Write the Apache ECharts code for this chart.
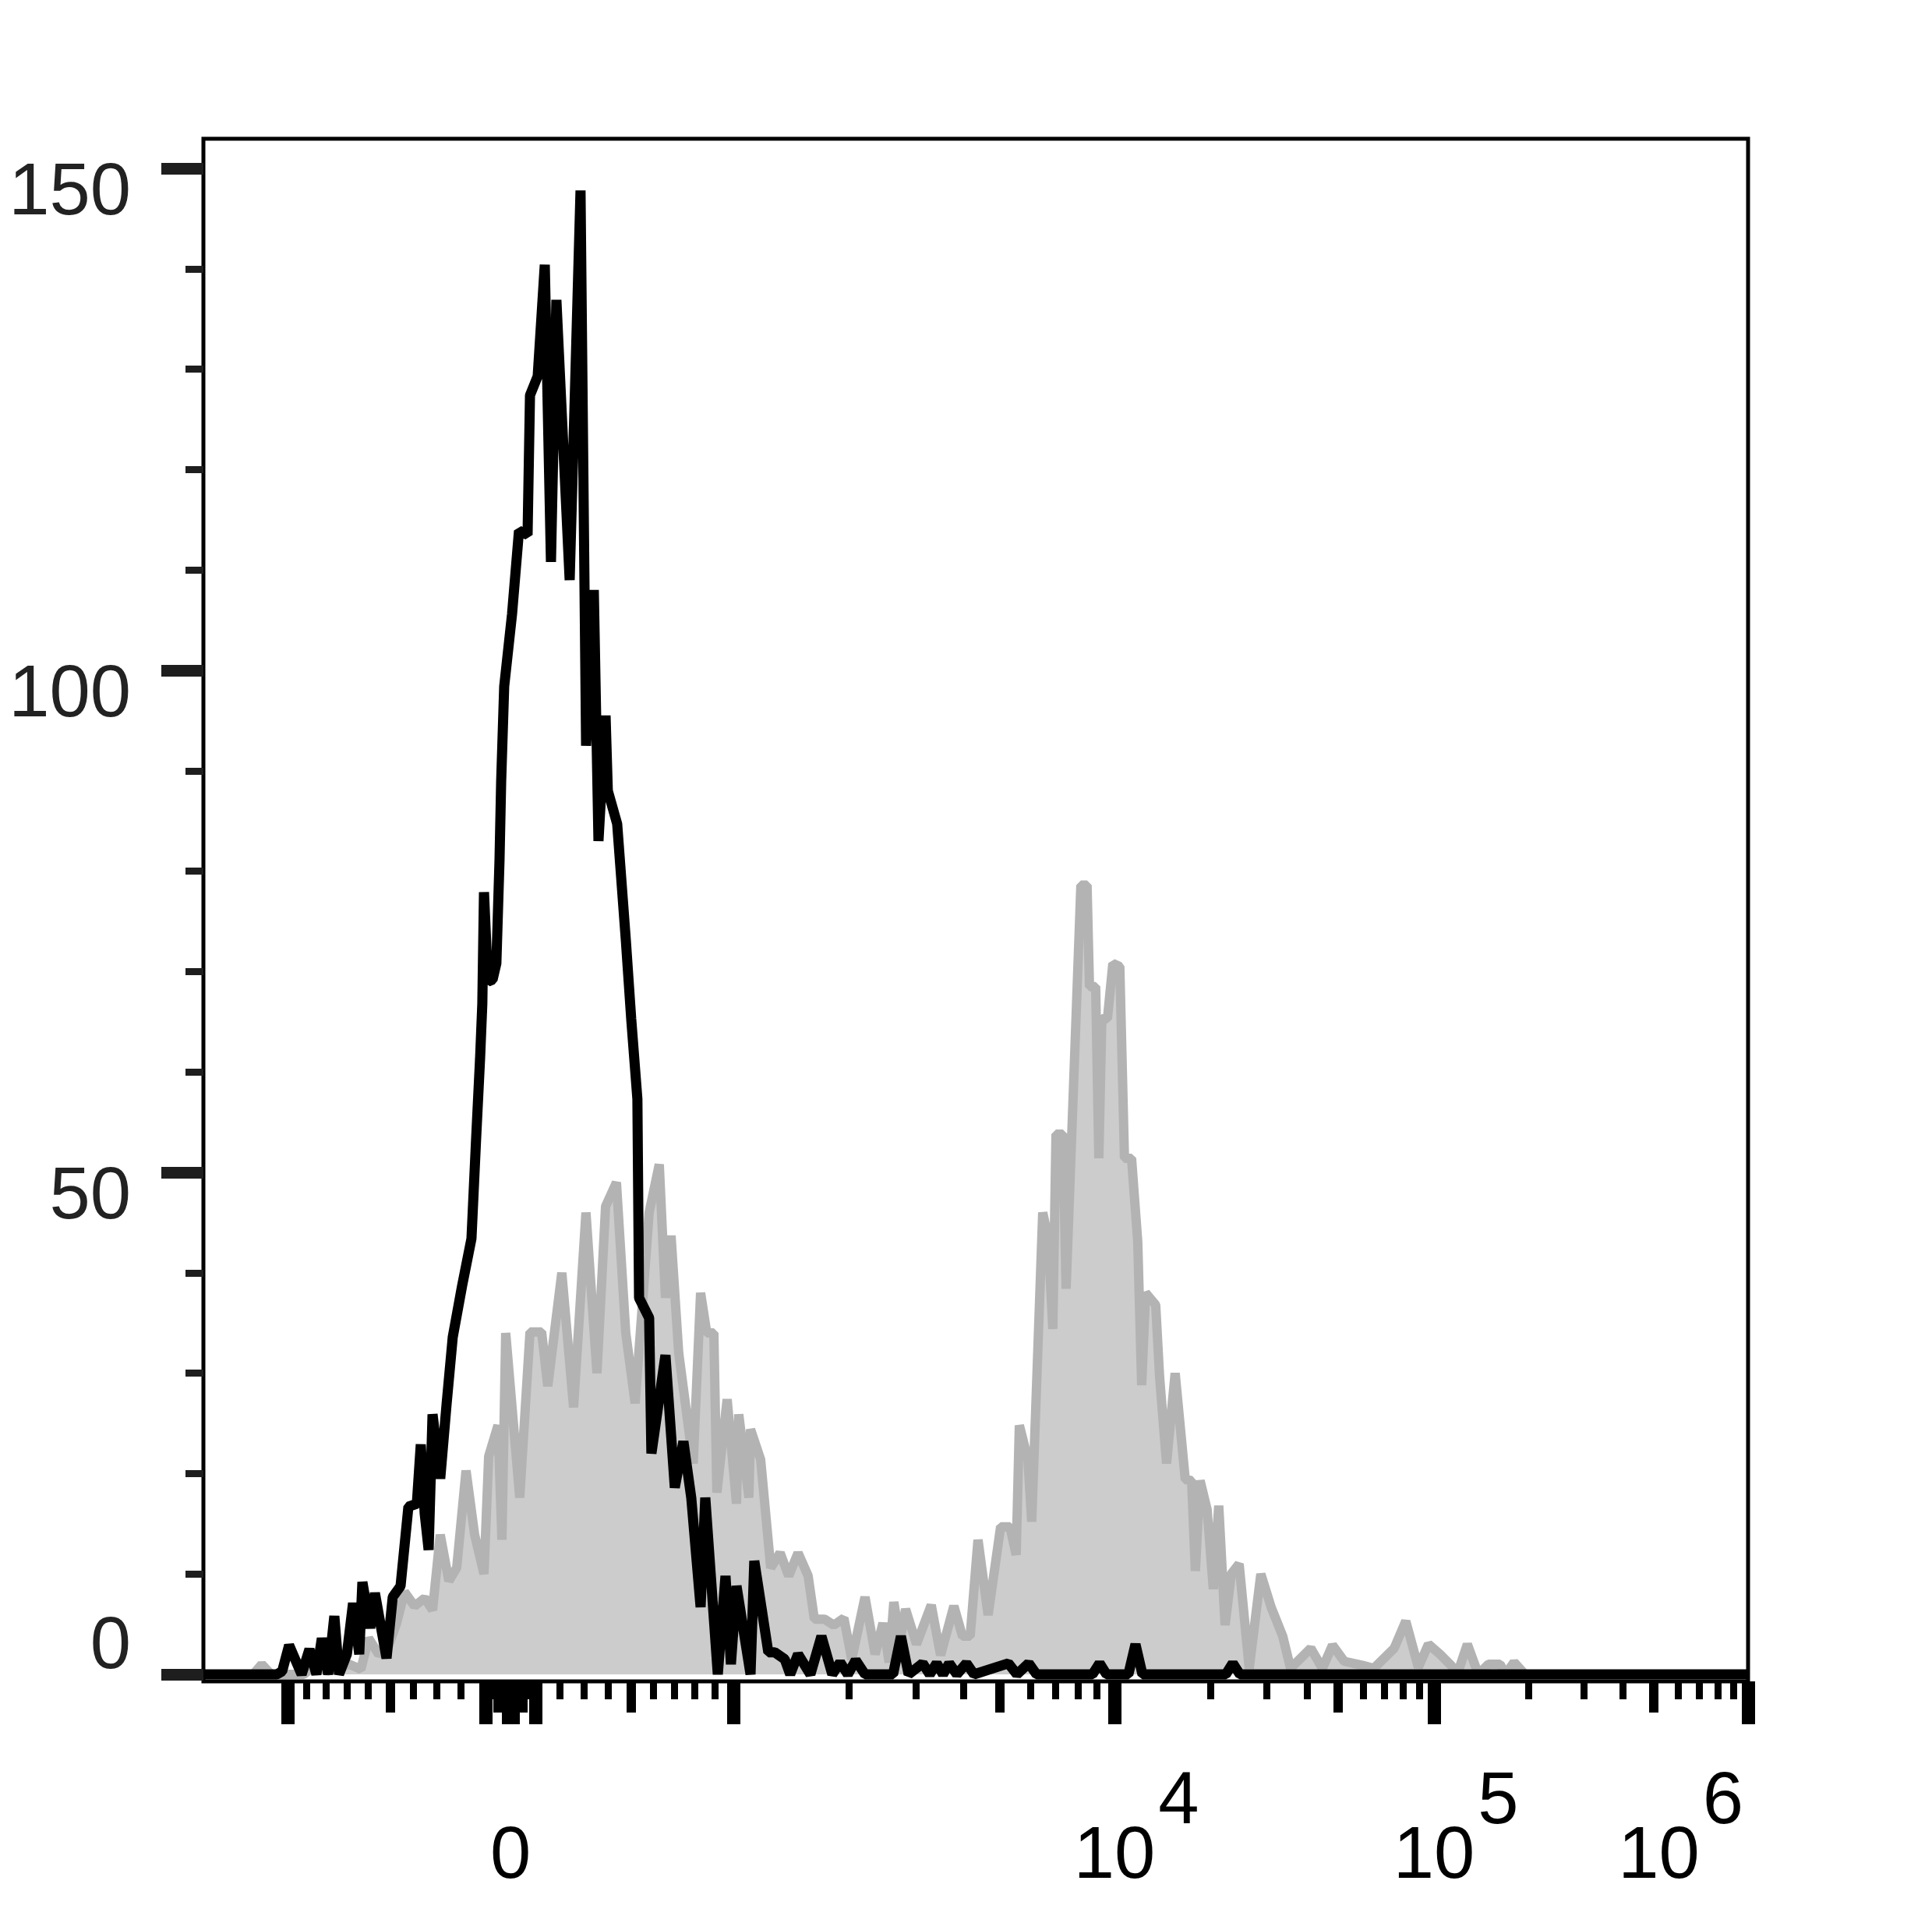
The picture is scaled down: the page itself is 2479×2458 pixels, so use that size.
<!DOCTYPE html>
<html>
<head>
<meta charset="utf-8">
<script src="https://cdn.jsdelivr.net/npm/echarts@6/dist/echarts.min.js"></script>
<style>
html,body{margin:0;padding:0;background:#fff;}
#chart{width:2479px;height:2458px;}
</style>
</head>
<body>
<div id="chart"></div>
<script>
// ---------- DATA (histogram vertices: [channel, count]) ----------
const grayHistogram = [
[0,0],[33.1,0],[38.7,1.0],[44.9,0],[66.6,0],[74.4,1.0],[82.1,0.3],[96.6,1.0],[104.4,0.5],[109.5,3.6],
[116.2,2.0],[121.9,2.5],[128.1,5.1],[133.3,8.2],[140.0,6.8],[146.7,7.6],[151.9,6.4],[157.0,13.9],[162.7,9.3],[167.9,10.6],
[174.1,20.3],[179.8,13.9],[186.0,10],[189.1,21.7],[195.3,24.8],[197.9,13.4],[200.4,34],[209.7,17.6],[216.5,34.1],[224.2,34.1],
[228.3,28.7],[237.6,40],[245.4,26.6],[253.6,46],[260.9,30],[266.6,46.6],[273.8,49],[280.0,34],[286.2,27],[295.5,46],
[302.2,50.8],[306.3,37.5],[310.0,43.7],[315.1,32],[324.7,21],[329.6,38],[333.7,34],[338.4,34],[340.4,18.1],[347.2,27.4],
[353.4,17],[354.9,25.9],[361.6,17.6],[362.7,24.4],[369.4,21.4],[376.1,10.6],[382.3,12.1],[388.0,9.8],[394.2,12.1],[400.9,9.8],
[405.0,5.5],[411.7,5.5],[417.9,4.9],[424.6,5.6],[429.8,1.5],[438.6,7.7],[445.3,2],[450.5,5.1],[454.6,1.2],[457.7,7.2],
[461.8,3.3],[465.5,6.5],[472.7,3],[482.5,6.9],[488.7,1.9],[497.5,6.8],[503.2,3.8],[508.3,3.8],[513.5,13.4],[520.2,5.9],
[528.5,14.7],[534.7,14.7],[538.8,11.9],[540.9,24.8],[546.6,21.4],[549.1,15.2],[556.4,46],[560.0,43.5],[563.1,34.4],[565.2,53.8],
[569.8,53.8],[571.9,38.4],[581.7,78.6],[585.8,78.6],[587.4,68.5],[591.5,68.5],[593.6,51.4],[595.6,65.3],[599.3,65.3],[602.9,70.8],
[607.5,70.5],[610.6,51.4],[615.3,51.4],[619.4,43.1],[622.0,28.8],[624.6,38],[631.3,36.8],[633.9,29.6],[638.5,21],[644.2,30],
[650.9,19.4],[655.1,19.3],[657.6,10.3],[660.7,19.3],[665.4,16.4],[669.5,8.5],[673.1,16.8],[677.3,4.9],[681.4,10],[686.6,11],
[693.3,0.6],[701.0,10],[707.8,6.7],[715.5,3.8],[720.7,0.6],[734.1,2.6],[741.8,0.6],[748.5,2.9],[756.3,1.3],[768.2,0.9],
[775.9,0.6],[789.4,2.6],[797.1,5.3],[805.4,0.7],[812.1,3.0],[819.8,2.0],[827.1,0.9],[831.2,0],[837.9,3],[845.2,0],
[851.9,1],[859.6,1],[863.2,0],[868.9,1.2],[876.1,0],[1024,0]
];

const blackHistogram = [
[0,0],[48.6,0],[52.2,0.3],[56.8,2.9],[65.1,0],[70.3,2.5],[74.9,0],[78.5,3.6],[82.7,0],[86.8,5.8],
[89.9,0],[95.1,2],[99.2,7.1],[103.3,2],[105.4,9.2],[110.6,4.6],[113.7,8.1],[121.4,1.6],[125.5,7.7],[130.7,8.8],
[135.9,16.7],[141.5,17],[144.1,22.9],[146.7,16],[149.3,12.4],[151.9,25.9],[157.0,19.5],[161.2,26.9],[165.3,33.6],[171.5,38.7],
[177.7,43.4],[180.8,53.4],[183.4,61.3],[184.9,66.8],[186.0,77.9],[188.6,69],[191.7,69.2],[194.2,70.8],[196.3,81.1],[197.4,89],
[199.4,98.4],[204.6,105.6],[209.2,113.9],[214.9,113.5],[216.5,127.4],[221.6,129.3],[226.3,140.4],[230.4,110.8],[234.0,136.9],[242.8,109],
[250.0,147.8],[253.7,92.5],[258.8,108],[261.9,83],[266.6,95.5],[268.1,88],[274.3,84.7],[280.0,73.2],[283.6,65.3],[287.7,57.3],
[288.8,37.5],[295.5,35.5],[297.0,22],[306.3,31.8],[312.5,18.6],[318.2,23.2],[323.4,17.6],[329.6,6.7],[332.7,17.6],[341.0,0],
[346.1,9.8],[349.7,1],[353.4,8.8],[362.7,0],[365.2,11.3],[374.5,2.2],[378.7,2.2],[385.4,1.5],[389.0,0],[394.2,2],
[402.4,0],[409.7,3.8],[416.9,0],[422.1,1.2],[427.2,0],[432.4,1.4],[438.6,0],[457.2,0],[462.4,3.8],[467.5,0],
[476.8,1.1],[481.5,0],[486.1,1.1],[490.3,0],[494.4,1.1],[499.5,0],[505.8,1.1],[510.9,0],[533.6,1.1],[539.3,0],
[547.1,1.1],[552.3,0],[589.4,0],[594.1,1.1],[598.7,0],[613.2,0],[617.9,3],[622.5,0],[677.8,0],[682.4,1.1],
[687.1,0],[1024,0]
];

const yMajorTicks = [0, 50, 100, 150];
const yMinorTicks = [10, 20, 30, 40, 60, 70, 80, 90, 110, 120, 130, 140];
const yTickLabels = ['0', '50', '100', '150'];

const xMajorTicks = [-1000, -100, -10, 0, 10, 100, 1000, 1e4, 1e5, 1e6];
const xMediumTicks = [-500, -50, 50, 500, 5000, 5e4, 5e5];
const xMinorMultipliers = [2, 3, 4, 6, 7, 8, 9];
const xTickLabels = [
  {value: 0, base: '0', exp: ''},
  {value: 1e4, base: '10', exp: '4'},
  {value: 1e5, base: '10', exp: '5'},
  {value: 1e6, base: '10', exp: '6'}
];

// ---------- biexponential display scale (value -> channel 0..1024) ----------
const BIEX = {
  zero: 203.6, linScale: 181.1, width: 1100,
  decades: [1e3, 1e4, 1e5, 1e6],
  channels: [351.8, 604.0, 815.8, 1024]
};
function biex(v) {
  const a = Math.abs(v), s = v < 0 ? -1 : 1;
  if (a <= 1000) return BIEX.zero + s * BIEX.linScale * Math.asinh(a / BIEX.width);
  const d = BIEX.decades, c = BIEX.channels;
  for (let i = 0; i < d.length - 1; i++) {
    if (a <= d[i + 1]) {
      const t = Math.log10(a / d[i]) / Math.log10(d[i + 1] / d[i]);
      return c[i] + t * (c[i + 1] - c[i]);
    }
  }
  return c[c.length - 1];
}
const xMinorTicks = [];
[10, 100].forEach(dec => xMinorMultipliers.forEach(m => xMinorTicks.push(-m * dec)));
[10, 100, 1000, 1e4, 1e5].forEach(dec => xMinorMultipliers.forEach(m => xMinorTicks.push(m * dec)));

const Y_MIN = -0.7, Y_MAX = 152.95;
const FONT = '"Liberation Sans", Arial, Helvetica, sans-serif';

function xAxisWith(ticks, len, width) {
  return {
    type: 'value', min: 0, max: 1024, position: 'bottom', offset: 0,
    axisLine: {show: false, onZero: false},
    axisLabel: {show: false},
    splitLine: {show: false},
    axisTick: {show: true, inside: false, length: len, customValues: ticks.map(biex),
      lineStyle: {color: '#000', width: width}}
  };
}
function yAxisWith(ticks, len, width) {
  return {
    type: 'value', min: Y_MIN, max: Y_MAX, position: 'left', offset: 0,
    axisLine: {show: false, onZero: false},
    axisLabel: {show: false},
    splitLine: {show: false},
    axisTick: {show: true, inside: false, length: len, customValues: ticks,
      lineStyle: {color: '#1e1e1e', width: width}}
  };
}

const option = {
  animation: false,
  backgroundColor: '#ffffff',
  grid: {left: 261, top: 178, width: 1982, height: 1979, show: true,
    borderColor: '#000', borderWidth: 5, backgroundColor: 'transparent', containLabel: false},
  xAxis: [
    xAxisWith(xMajorTicks, 55, 17),
    xAxisWith(xMediumTicks, 40, 12),
    xAxisWith(xMinorTicks, 23, 9)
  ],
  yAxis: [
    yAxisWith(yMajorTicks, 54, 15),
    yAxisWith(yMinorTicks, 23, 9)
  ],
  series: [
    {type: 'line', name: 'gray', xAxisIndex: 0, yAxisIndex: 0, data: grayHistogram,
      symbol: 'none', showSymbol: false, z: 2,
      lineStyle: {color: '#b3b3b3', width: 12},
      areaStyle: {color: '#cccccc', opacity: 1}},
    {type: 'line', name: 'black', xAxisIndex: 0, yAxisIndex: 0, data: blackHistogram,
      symbol: 'none', showSymbol: false, z: 3,
      lineStyle: {color: '#000000', width: 13}}
  ]
};

const chart = echarts.init(document.getElementById('chart'), null, {renderer: 'canvas', width: 2479, height: 2458});
chart.setOption(option);

// ---------- tick labels placed through the axis scales ----------
const measureCtx = document.createElement('canvas').getContext('2d');
const FONT_SIZE = 94;
measureCtx.font = FONT_SIZE + 'px ' + FONT;
const tw = t => measureCtx.measureText(t).width;

const px = v => chart.convertToPixel({xAxisIndex: 0}, biex(v));
const py = v => chart.convertToPixel({yAxisIndex: 0}, v);
const gridLeft = chart.convertToPixel({xAxisIndex: 0}, 0);
const gridRight = chart.convertToPixel({xAxisIndex: 0}, 1024);
const gridBottom = py(Y_MIN);

const graphics = [];
function addText(text, x, y, align, color) {
  graphics.push({type: 'text', x: x, y: y, silent: true, z: 10,
    style: {text: text, fill: color, fontSize: FONT_SIZE, fontFamily: FONT,
      align: align, verticalAlign: 'middle', textAlign: align, textVerticalAlign: 'middle'}});
}
xTickLabels.forEach(lb => {
  const tx = px(lb.value);
  const baseY = gridBottom + 226;
  if (!lb.exp) { addText(lb.base, tx, baseY, 'center', '#000'); return; }
  const bw = tw(lb.base), ew = tw(lb.exp), gap = 4;
  let baseLeft = tx - bw / 2;
  let expLeft = baseLeft + bw + gap;
  const limit = gridRight - 6;
  if (expLeft + ew > limit) {
    const shift = expLeft + ew - limit;
    baseLeft -= shift; expLeft -= shift;
  }
  addText(lb.base, baseLeft, baseY, 'left', '#000');
  addText(lb.exp, expLeft, gridBottom + 156, 'left', '#000');
});
yMajorTicks.forEach((v, i) => {
  const y = py(v) + (v === 0 ? -34 : 33);
  addText(yTickLabels[i], gridLeft - 93, y, 'right', '#222222');
});
chart.setOption({graphic: {elements: graphics}});
</script>
</body>
</html>
